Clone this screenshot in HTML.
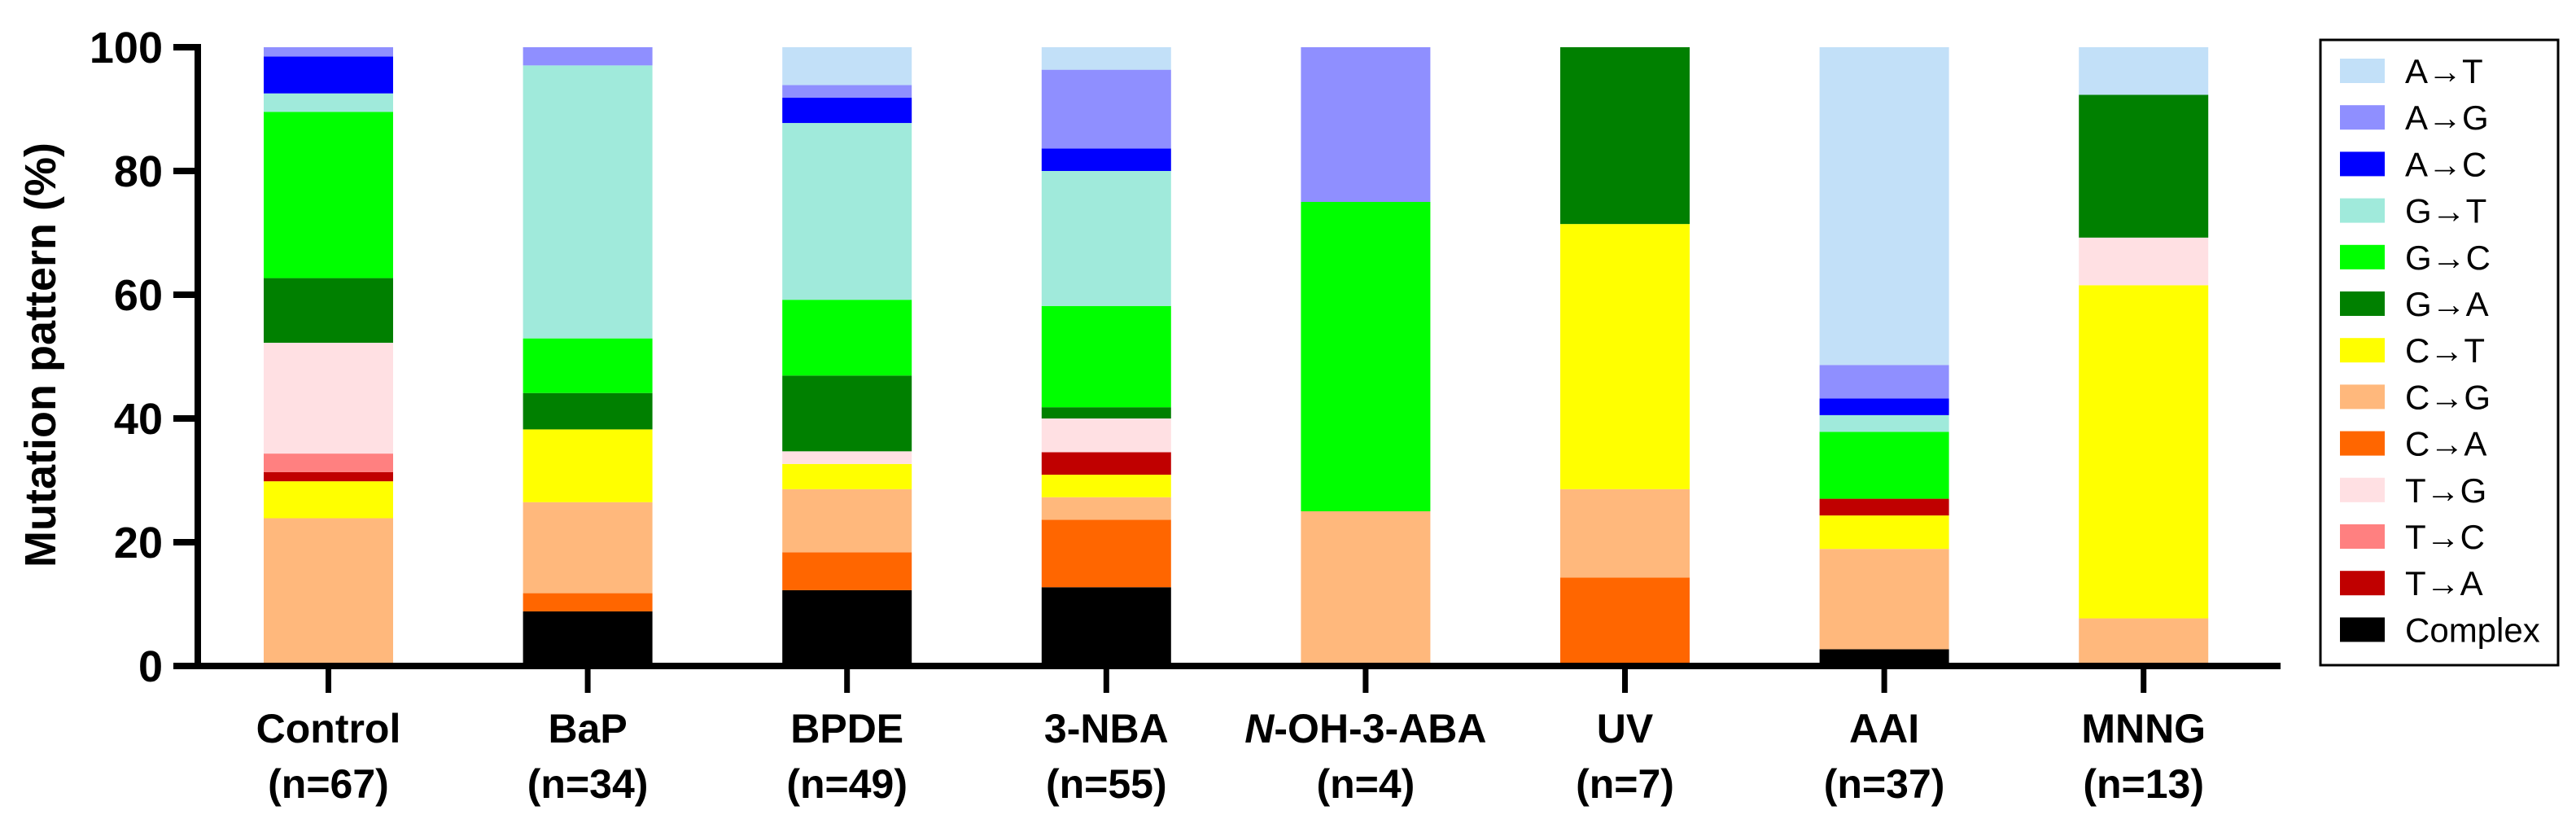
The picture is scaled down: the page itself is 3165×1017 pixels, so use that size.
<!DOCTYPE html>
<html><head><meta charset="utf-8"><style>
html,body{margin:0;padding:0;background:#fff;}
svg{display:block;font-family:"Liberation Sans",Arial,sans-serif;}
</style></head><body>
<svg id="chart" width="3165" height="1017" viewBox="0 0 3165 1017" xmlns="http://www.w3.org/2000/svg">
<g id="bars"></g>
<g id="axes"></g>
<g id="legend"></g>
</svg>
<script>
const categories = ["Control","BaP","BPDE","3-NBA","N-OH-3-ABA","UV","AAI","MNNG"];
const nLabels = [67,34,49,55,4,7,37,13];
const seriesNames = ["Complex","C→A","C→G","C→T","T→A","T→C","T→G","G→A","G→C","G→T","A→C","A→G","A→T"];
const seriesColors = ["#000000","#ff6600","#ffb87c","#ffff00","#c00000","#ff8080","#ffe0e3","#008000","#00ff00","#a0eadb","#0000ff","#8f8fff","#c2e0f8"];
// mutation counts per category (stack order bottom -> top)
const complexVals = [0,3,6,7,0,0,1,0];
const cToA =        [0,1,3,6,0,1,0,0];
const cToG =        [16,5,5,2,1,1,6,1];
const cToT =        [4,4,2,2,0,3,2,7];
const tToA =        [1,0,0,2,0,0,1,0];
const tToC =        [2,0,0,0,0,0,0,0];
const tToG =        [12,0,1,3,0,0,0,1];
const gToA =        [7,2,6,1,0,2,0,3];
const gToC =        [18,3,6,9,2,0,4,0];
const gToT =        [2,15,14,12,0,0,1,0];
const aToC =        [4,0,2,2,0,0,1,0];
const aToG =        [1,1,1,7,1,0,2,0];
const aToT =        [0,0,3,2,0,0,19,1];
const yTicks = [0,20,40,60,80,100];
const series = [complexVals,cToA,cToG,cToT,tToA,tToC,tToG,gToA,gToC,gToT,aToC,aToG,aToT];
const legendOrder = ["A→T","A→G","A→C","G→T","G→C","G→A","C→T","C→G","C→A","T→G","T→C","T→A","Complex"];

const NS="http://www.w3.org/2000/svg";
const y0=818, yTop=58;
const yScale = v => y0 - (y0-yTop)*v/100;
const xCenter = i => 403.5 + 318.6*i;
const barW = 159;
function mk(tag, attrs, parent){const e=document.createElementNS(NS,tag);for(const k in attrs)e.setAttribute(k,attrs[k]);parent.appendChild(e);return e;}
const bars=document.getElementById('bars');
categories.forEach((cat,i)=>{
  const total = series.reduce((s,a)=>s+a[i],0);
  let cum=0;
  series.forEach((arr,si)=>{
    const v=arr[i]; if(!v) return;
    const p0=cum/total*100; cum+=v; const p1=cum/total*100;
    const r=mk('rect',{x:xCenter(i)-barW/2,y:yScale(p1),width:barW,height:yScale(p0)-yScale(p1),fill:seriesColors[si]},bars);
    
    
  });
});
const axes=document.getElementById('axes');
let l=mk('line',{x1:243,y1:yTop-3,x2:243,y2:y0+4,stroke:'#000','stroke-width':8},axes);


l=mk('line',{x1:213,y1:y0,x2:2802,y2:y0,stroke:'#000','stroke-width':8},axes);


yTicks.forEach(t=>{
  const y=yScale(t);
  const tk=mk('line',{x1:213,y1:y,x2:247,y2:y,stroke:'#000','stroke-width':8},axes);
  
  
  const tx=mk('text',{x:200,y:y+19,'text-anchor':'end','font-size':54,'font-weight':'bold'},axes);
  tx.textContent=t;
  
  
});
const yt=mk('text',{x:0,y:0,'text-anchor':'middle','font-size':54,'font-weight':'bold',transform:'translate(68,436) rotate(-90)'},axes);
yt.textContent='Mutation pattern (%)';


categories.forEach((cat,i)=>{
  const x=xCenter(i);
  const tk=mk('line',{x1:x,y1:y0,x2:x,y2:851,stroke:'#000','stroke-width':7},axes);
  
  
  const t1=mk('text',{x:x,y:912,'text-anchor':'middle','font-size':50,'font-weight':'bold'},axes);
  if(cat==="N-OH-3-ABA"){
    const a=mk('tspan',{'font-style':'italic'},t1);a.textContent='N';
    const b=mk('tspan',{},t1);b.textContent='-OH-3-ABA';
  } else t1.textContent=cat;
  
  
  const t2=mk('text',{x:x,y:980,'text-anchor':'middle','font-size':50,'font-weight':'bold'},axes);
  t2.textContent='(n='+nLabels[i]+')';
  
  
});
const lg=document.getElementById('legend');
const box=mk('rect',{x:2851,y:49,width:292,height:768,fill:'#fff',stroke:'#000','stroke-width':3},lg);


legendOrder.forEach((nm,k)=>{
  const si=seriesNames.indexOf(nm);
  const cy=87+57.2*k;
  const sw=mk('rect',{x:2875,y:cy-15,width:55,height:30,fill:seriesColors[si]},lg);
  
  
  const tx=mk('text',{x:2955,y:cy+15,'font-size':42},lg);
  tx.textContent=nm;
  
  
});
</script>
</body></html>
